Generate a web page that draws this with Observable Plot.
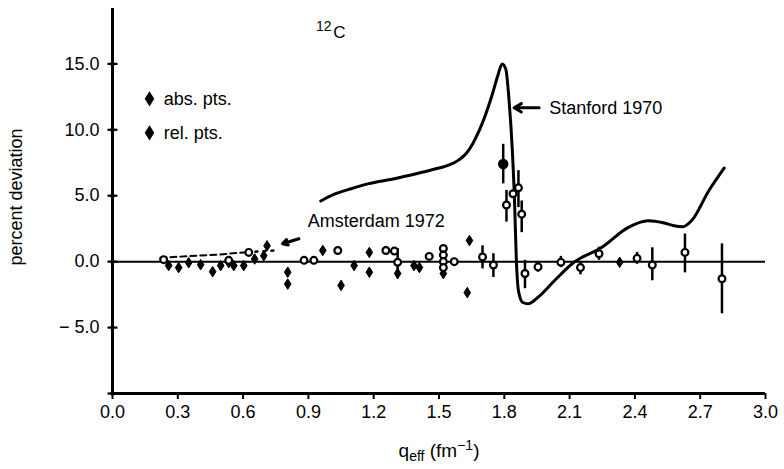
<!DOCTYPE html>
<html>
<head>
<meta charset="utf-8">
<script src="https://cdn.jsdelivr.net/npm/d3@7"></script>
<script src="https://cdn.jsdelivr.net/npm/@observablehq/plot@0.6"></script>
<style>
  body { margin: 0; background: #fff; }
  #chart svg { display: block; }
</style>
</head>
<body>
<div id="chart"></div>
<script>
// Axis ticks
const xTicks = [0.0, 0.3, 0.6, 0.9, 1.2, 1.5, 1.8, 2.1, 2.4, 2.7, 3.0];
const yTicks = [-10, -5, 0, 5, 10, 15];

// Stanford 1970 curve (percent deviation vs q_eff)
const stanfordQ = [0.957, 1.017, 1.10, 1.173, 1.30, 1.404, 1.50, 1.55, 1.59, 1.625, 1.655, 1.685, 1.715, 1.745, 1.77, 1.79, 1.807, 1.822, 1.837, 1.847, 1.855, 1.865, 1.885, 1.91, 1.955, 2.03, 2.12, 2.245, 2.37, 2.46, 2.53, 2.58, 2.62, 2.66, 2.74, 2.81];
const stanfordV = [4.6, 5.1, 5.55, 5.9, 6.3, 6.7, 7.1, 7.35, 7.7, 8.2, 8.95, 9.95, 11.2, 12.7, 14.1, 15.0, 14.6, 12.2, 8.4, 4.6, 0.3, -2.2, -3.1, -3.2, -2.7, -1.45, -0.05, 1.05, 2.6, 3.1, 2.95, 2.72, 2.65, 3.1, 5.4, 7.1];

// Amsterdam 1972 curve: dashed part, then dotted continuation
const amsterdamQ = [0.22, 0.48, 0.62];
const amsterdamV = [0.3, 0.53, 0.72];
const amsterdamTailQ = [0.62, 0.75];
const amsterdamTailV = [0.72, 0.85];

// Measured points drawn as filled diamonds
const diamondQ = [0.258, 0.304, 0.35, 0.405, 0.46, 0.497, 0.534, 0.557, 0.603, 0.653, 0.695, 0.71, 0.805, 0.805, 0.966, 1.05, 1.11, 1.18, 1.18, 1.31, 1.385, 1.41, 1.52, 1.63, 1.64, 2.33];
const diamondV = [-0.3, -0.45, -0.08, -0.23, -0.76, -0.3, -0.08, -0.3, -0.3, 0.2, 0.45, 1.2, -0.8, -1.7, 0.85, -1.8, -0.3, 0.7, -0.8, -0.9, -0.3, -0.45, -0.9, -2.35, 1.6, -0.05];

// Measured points drawn as open circles
const circleQ = [0.235, 0.534, 0.626, 0.88, 0.925, 1.035, 1.256, 1.295, 1.31, 1.455, 1.52, 1.52, 1.52, 1.52, 1.57, 1.70, 1.75, 1.81, 1.84, 1.865, 1.88, 1.895, 1.955, 2.06, 2.15, 2.235, 2.41, 2.48, 2.63, 2.80];
const circleV = [0.15, 0.1, 0.7, 0.1, 0.1, 0.85, 0.85, 0.8, -0.05, 0.4, 1.0, 0.5, 0.0, -0.45, 0.0, 0.35, -0.25, 4.3, 5.15, 5.6, 3.6, -0.9, -0.4, -0.05, -0.45, 0.6, 0.25, -0.25, 0.7, -1.3];

// Measured point drawn as a solid dot
const solidQ = [1.795];
const solidV = [7.4];

// Error bars
const barQ  = [1.31, 1.70, 1.75, 1.795, 1.81, 1.865, 1.88, 1.895, 1.955, 2.06, 2.15, 2.235, 2.41, 2.48, 2.63, 2.80];
const barLo = [-1.3, -0.55, -1.2, 5.9, 3.0, 4.1, 2.2, -2.05, -0.8, -0.45, -1.0, 0.1, -0.2, -1.45, -0.85, -3.95];
const barHi = [1.0, 1.2, 0.6, 8.9, 5.4, 6.9, 4.6, 0.1, 0.0, 0.4, 0.0, 1.1, 0.7, 1.05, 2.1, 1.35];

// Legend entries
const legendLabels = ["abs. pts.", "rel. pts."];

const stanford = stanfordQ.map((q, i) => ({q, v: stanfordV[i]}));
const amsterdam = amsterdamQ.map((q, i) => ({q, v: amsterdamV[i]}));
const amsterdamTail = amsterdamTailQ.map((q, i) => ({q, v: amsterdamTailV[i]}));
const diamonds = diamondQ.map((q, i) => ({q, v: diamondV[i]}));
const circles = circleQ.map((q, i) => ({q, v: circleV[i]}));
const solids = solidQ.map((q, i) => ({q, v: solidV[i]}));
const bars = barQ.map((q, i) => ({q, lo: barLo[i], hi: barHi[i]}));

// Custom symbols: vertically stretched diamond and a short horizontal dash
const tallDiamond = {
  draw(ctx, size) {
    const r = Math.sqrt(size / Math.PI);
    ctx.moveTo(0, -r * 1.35);
    ctx.lineTo(r * 0.85, 0);
    ctx.lineTo(0, r * 1.35);
    ctx.lineTo(-r * 0.85, 0);
    ctx.closePath();
  }
};
const hbar = {
  draw(ctx, size) {
    const r = Math.sqrt(size / Math.PI);
    ctx.moveTo(-r, 0);
    ctx.lineTo(r, 0);
  }
};

const fmtX = d3.format(".1f");
const fmtY = v => v === -10 ? "" : v < 0 ? "\u2212 " + d3.format(".1f")(-v) : d3.format(".1f")(v);
const X_LABEL = "qeff (fm-1)";

// Annotation anchors in data units
const legendQ = 0.17, legendTextQ = 0.235, legendV = [12.35, 9.77];

const plot = Plot.plot({
  width: 784,
  height: 469,
  marginLeft: 112,
  marginRight: 19,
  marginTop: 8,
  marginBottom: 76,
  style: {
    fontFamily: "'Liberation Sans', Arial, sans-serif",
    fontSize: "18px",
    color: "black",
    background: "white",
    overflow: "visible"
  },
  x: {domain: [0, 3]},
  y: {domain: [-10, 19.2]},
  marks: [
    // frame lines and zero line
    Plot.ruleY([0], {stroke: "black", strokeWidth: 2}),
    Plot.ruleX([0], {stroke: "black", strokeWidth: 3}),
    Plot.ruleY([-10], {stroke: "black", strokeWidth: 3}),

    Plot.axisX({ticks: xTicks, tickFormat: fmtX, tickSize: 6, tickPadding: 6, strokeWidth: 2, label: null}),
    Plot.axisY({ticks: yTicks, tickFormat: fmtY, tickSize: 0, tickPadding: 13, label: null}),
    Plot.dot(yTicks, {x: () => 0, y: d => d, symbol: hbar, r: 5, fill: "none", stroke: "black", strokeWidth: 2.2}),
    Plot.dot(yTicks, {x: () => 0, y: d => d, r: 2.2, fill: "black", stroke: "none"}),

    // curves
    Plot.line(stanford, {x: "q", y: "v", curve: "monotone-x", stroke: "black", strokeWidth: 3}),
    Plot.line(amsterdam, {x: "q", y: "v", stroke: "black", strokeWidth: 2, strokeDasharray: "6,4"}),
    Plot.line(amsterdamTail, {x: "q", y: "v", stroke: "black", strokeWidth: 2.5, strokeDasharray: "2,6"}),

    // error bars and points
    Plot.ruleX(bars, {x: "q", y1: "lo", y2: "hi", stroke: "black", strokeWidth: 2.5}),
    Plot.dot(diamonds, {x: "q", y: "v", symbol: tallDiamond, r: 3.9, fill: "black", stroke: "black", strokeWidth: 1}),
    Plot.dot(circles, {x: "q", y: "v", r: 3.4, fill: "white", stroke: "black", strokeWidth: 2.2}),
    Plot.dot(solids, {x: "q", y: "v", r: 4.5, fill: "black", stroke: "black"}),

    // annotations
    Plot.arrow([0], {x1: () => 1.96, y1: () => 11.67, x2: () => 1.845, y2: () => 11.67, stroke: "black", strokeWidth: 3, headLength: 8}),
    Plot.text(["Stanford 1970"], {x: () => 2.006, y: () => 11.67, text: d => d, textAnchor: "start", fill: "black"}),
    Plot.arrow([0], {x1: () => 0.856, y1: () => 1.73, x2: () => 0.782, y2: () => 1.36, stroke: "black", strokeWidth: 3.2, headLength: 6}),
    Plot.text(["Amsterdam 1972"], {x: () => 0.897, y: () => 3.1, text: d => d, textAnchor: "start", fill: "black"}),

    // legend
    Plot.dot(legendV, {x: () => legendQ, y: d => d, symbol: tallDiamond, r: 4.6, fill: "black", stroke: "black"}),
    Plot.text(legendLabels, {x: () => legendTextQ, y: (d, i) => legendV[i], text: d => d, textAnchor: "start", fill: "black"}),

    // nucleus label
    Plot.text(["12"], {x: () => 0.935, y: () => 17.85, text: d => d, textAnchor: "start", fontSize: 14, fill: "black"}),
    Plot.text(["C"], {x: () => 1.014, y: () => 17.4, text: d => d, textAnchor: "start", fontSize: 17, fill: "black"}),

    // axis titles
    Plot.text(["percent deviation"], {frameAnchor: "left", rotate: -90, dx: -96, dy: -4, textAnchor: "middle", text: d => d, fill: "black"}),
    Plot.text([X_LABEL], {x: () => 1.5, frameAnchor: "bottom", dy: 63, text: d => d, fontSize: 19, fill: "black"})
  ]
});

// x-axis title with subscript and superscript
d3.select(plot).selectAll("text")
  .filter(function () { return this.textContent === X_LABEL; })
  .each(function () {
    const t = d3.select(this);
    t.text(null);
    t.append("tspan").text("q");
    t.append("tspan").attr("font-size", 14).attr("dy", 4).text("eff");
    t.append("tspan").attr("dy", -4).text(" (fm");
    t.append("tspan").attr("font-size", 14).attr("dy", -7).text("\u22121");
    t.append("tspan").attr("dy", 7).text(")");
  });

document.getElementById("chart").append(plot);
</script>
</body>
</html>
